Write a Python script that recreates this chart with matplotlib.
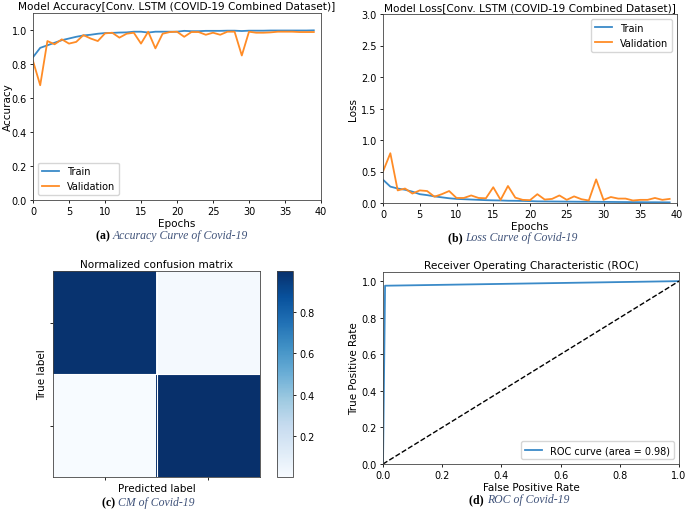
import numpy as np
import matplotlib
matplotlib.use("Agg")
import matplotlib.pyplot as plt

# ---- data ----------------------------------------------------------------
epochs = list(range(40))

train_acc = [0.84, 0.895, 0.91, 0.925, 0.94, 0.95, 0.96, 0.968, 0.972, 0.978,
             0.982, 0.983, 0.985, 0.986, 0.99, 0.99, 0.985, 0.99, 0.99, 0.99,
             0.99, 0.995, 0.993, 0.993, 0.995, 0.995, 0.995, 0.996, 0.996, 0.994,
             0.996, 0.996, 0.996, 0.997, 0.997, 0.997, 0.997, 0.997, 0.997, 0.998]
val_acc = [0.818, 0.675, 0.935, 0.916, 0.945, 0.92, 0.93, 0.97, 0.95, 0.935,
           0.98, 0.984, 0.955, 0.978, 0.984, 0.92, 0.99, 0.892, 0.978, 0.988,
           0.99, 0.96, 0.988, 0.988, 0.972, 0.984, 0.972, 0.99, 0.99, 0.85,
           0.99, 0.984, 0.984, 0.986, 0.99, 0.99, 0.99, 0.988, 0.988, 0.988]

train_loss = [0.37, 0.26, 0.23, 0.21, 0.18, 0.14, 0.125, 0.105, 0.09, 0.075,
              0.065, 0.06, 0.055, 0.05, 0.045, 0.042, 0.04, 0.036, 0.035, 0.033,
              0.03, 0.026, 0.025, 0.024, 0.023, 0.022, 0.021, 0.02, 0.02, 0.019,
              0.018, 0.017, 0.016, 0.015, 0.014, 0.013, 0.012, 0.012, 0.011, 0.01]
val_loss = [0.5, 0.79, 0.2, 0.23, 0.15, 0.2, 0.19, 0.1, 0.14, 0.19,
            0.08, 0.08, 0.12, 0.08, 0.075, 0.25, 0.05, 0.27, 0.085, 0.05,
            0.045, 0.14, 0.055, 0.065, 0.12, 0.05, 0.105, 0.06, 0.04, 0.375,
            0.05, 0.095, 0.07, 0.07, 0.04, 0.05, 0.05, 0.08, 0.05, 0.065]

cm = [[0.98, 0.02],
      [0.005, 0.995]]

fpr = [0.0, 0.007, 1.0]
tpr = [0.0, 0.975, 1.0]
roc_auc = 0.98

captions = [("(a)", "Accuracy Curve of Covid-19"),
            ("(b)", "Loss Curve of Covid-19"),
            ("(c)", "CM of Covid-19"),
            ("(d)", "ROC of Covid-19")]

# ---- style ----------------------------------------------------------------
plt.rcParams.update({
    "font.family": "DejaVu Sans",
    "font.size": 7.5,
    "xtick.labelsize": 7,
    "ytick.labelsize": 7,
    "axes.linewidth": 0.6,
    "axes.edgecolor": "#444444",
    "xtick.major.size": 2.5,
    "ytick.major.size": 2.5,
    "xtick.major.width": 0.6,
    "ytick.major.width": 0.6,
    "xtick.major.pad": 2,
    "ytick.major.pad": 2,
    "legend.fontsize": 7,
    "legend.handlelength": 1.8,
})
BLUE = "#3a8ac8"
ORANGE = "#ff8c26"
TITLE_FS = 7.6
W, H = 685, 510


def box(l, t, r, b):
    return [l / W, 1 - b / H, (r - l) / W, (b - t) / H]


fig = plt.figure(figsize=(W / 100, H / 100), dpi=100)

# (a) accuracy
ax = fig.add_axes(box(33, 14, 321, 201))
ax.plot(epochs, train_acc, color=BLUE, lw=1.3, label="Train")
ax.plot(epochs, val_acc, color=ORANGE, lw=1.3, label="Validation")
ax.set_xlim(0, 40)
ax.set_ylim(0, 1.1)
ax.set_yticks([0, 0.2, 0.4, 0.6, 0.8, 1.0])
ax.set_title("Model Accuracy[Conv. LSTM (COVID-19 Combined Dataset)]", fontsize=TITLE_FS, pad=3)
ax.set_xlabel("Epochs", labelpad=1)
ax.set_ylabel("Accuracy")
ax.yaxis.set_label_coords(-20 / 288, 0.5)
ax.legend(loc="lower left")

# (b) loss
ax = fig.add_axes(box(383, 15, 677, 204))
ax.plot(epochs, train_loss, color=BLUE, lw=1.3, label="Train")
ax.plot(epochs, val_loss, color=ORANGE, lw=1.3, label="Validation")
ax.set_xlim(0, 40)
ax.set_ylim(0, 3.0)
ax.set_title("Model Loss[Conv. LSTM (COVID-19 Combined Dataset)]", fontsize=TITLE_FS, pad=3)
ax.set_xlabel("Epochs", labelpad=1)
ax.set_ylabel("Loss", labelpad=2)
ax.legend(loc="upper right")

# (c) confusion matrix
ax = fig.add_axes(box(53, 272, 260, 478))
im = ax.imshow(cm, cmap="Blues", interpolation="nearest", aspect="auto")
ax.set_title("Normalized confusion matrix", fontsize=TITLE_FS, pad=3)
ax.set_xticks([0, 1])
ax.set_yticks([0, 1])
ax.set_xticklabels(["", ""])
ax.set_yticklabels(["", ""])
ax.set_xlabel("Predicted label", labelpad=0)
ax.set_ylabel("True label", labelpad=0)
ax.axhline(0.5, color="white", lw=0.8)
ax.axvline(0.5, color="white", lw=0.8)
cax = fig.add_axes(box(277, 272, 293, 478))
cb = fig.colorbar(im, cax=cax)
cb.set_ticks([0.2, 0.4, 0.6, 0.8])
cb.outline.set_linewidth(0.6)

# (d) ROC
ax = fig.add_axes(box(383, 273, 679, 465))
ax.plot(fpr, tpr, color=BLUE, lw=1.3, label="ROC curve (area = %0.2f)" % roc_auc)
ax.plot([0, 1], [0, 1], "k--", lw=1.0)
ax.set_xlim(0, 1)
ax.set_ylim(0, 1.05)
ax.set_title("Receiver Operating Characteristic (ROC)", fontsize=TITLE_FS, pad=3)
ax.set_xlabel("False Positive Rate", labelpad=1)
ax.set_ylabel("True Positive Rate", labelpad=2)
ax.legend(loc="lower right")

# captions
cap_pos = [(172, 236), (513, 238), (148, 503), (519, 500)]
for (tag, text), (cx, cy) in zip(captions, cap_pos):
    t1 = fig.text(0, 0, tag + " ", fontsize=8.5, fontweight="bold",
                  family="Liberation Serif")
    t2 = fig.text(0, 0, text, fontsize=8.5, style="italic",
                  family="Liberation Serif", color="#3f5279")
    fig.canvas.draw()
    r = fig.canvas.get_renderer()
    w1 = t1.get_window_extent(r).width
    w2 = t2.get_window_extent(r).width
    x0 = cx - (w1 + w2) / 2
    t1.set_position((x0 / W, 1 - cy / H))
    t2.set_position(((x0 + w1) / W, 1 - cy / H))
    t1.set_va("center")
    t2.set_va("center")

fig.savefig("out.png", dpi=100)
